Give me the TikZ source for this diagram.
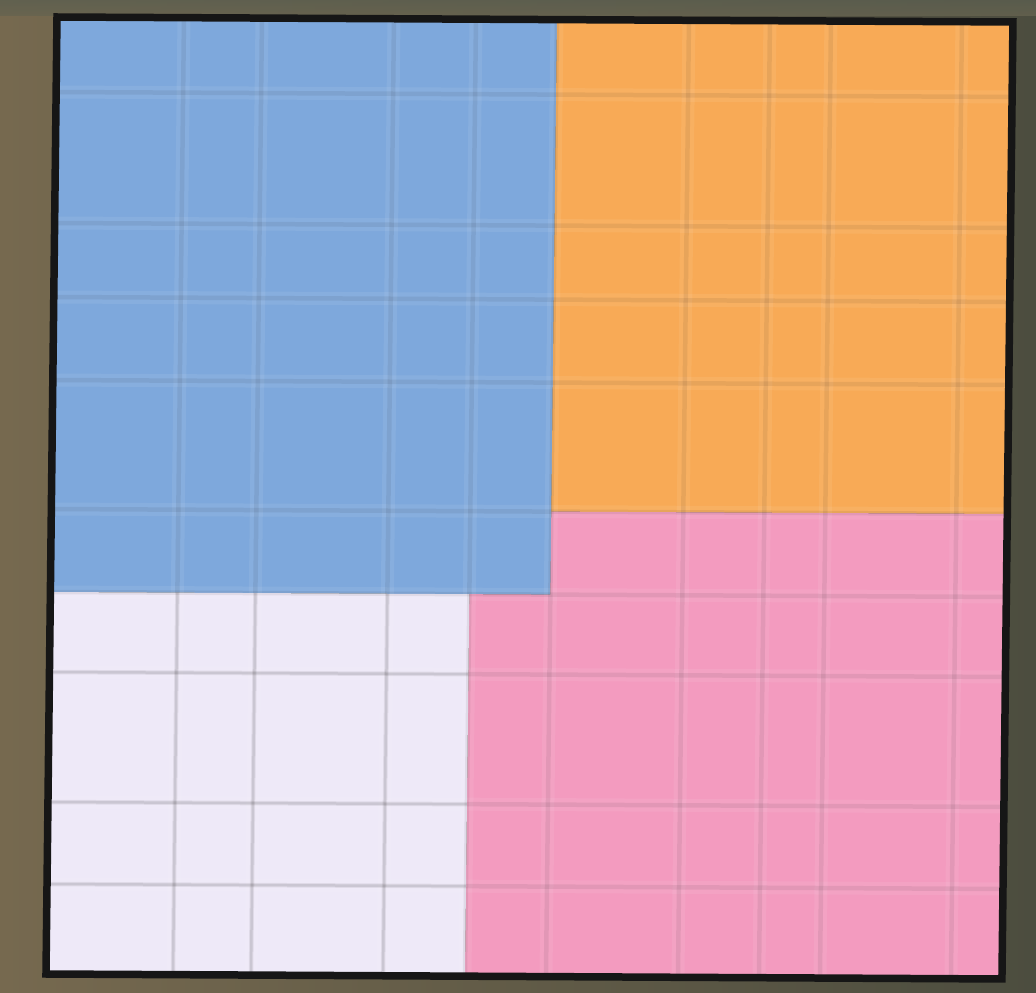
\documentclass[tikz,border=0pt]{standalone}
\begin{document}
\begin{tikzpicture}[x=0.02cm,y=-0.02cm]
\definecolor{bgL}{HTML}{76694F}
\definecolor{bgR}{HTML}{4C4D3F}
\definecolor{bgT}{HTML}{5C5F50}
\definecolor{blueC}{HTML}{7EA8DC}
\definecolor{orangeC}{HTML}{F8AA56}
\definecolor{pinkC}{HTML}{F39BBF}
\definecolor{whiteC}{HTML}{EEE9F8}
\definecolor{borderC}{HTML}{161616}
\tikzset{
  halo/.style={line width=0.26cm, white, opacity=0.07},
  gridline/.style={line width=0.09cm, black, opacity=0.065},
  gridlinew/.style={line width=0.05cm, black, opacity=0.09},
  frame/.style={line width=0.15cm, borderC}
}
\useasboundingbox (0,0) rectangle (1036,993);
\shade[left color=bgL, right color=bgR] (0,0) rectangle (1036,993);
\shade[top color=bgT, bottom color=bgT!60!bgL, opacity=0.8] (0,0) rectangle (1036,16);
\begin{scope}[shift={(57,17)}, xslant=0.0115, yslant=-0.0052]
  \fill[blueC] (0,0) rectangle (500,575);
  \fill[orangeC] (500,0) rectangle (956,492);
  \fill[pinkC] (500,492) -- (956,492) -- (956,957) -- (419,957) -- (419,575) -- (500,575) -- cycle;
  \fill[whiteC] (0,575) rectangle (419,957);
  % soft halos
  \foreach \u in {127,205,337,419,500,632,713,774,905}
    \draw[halo] (\u,0) -- (\u,957);
  \foreach \v in {75,206,280,363,492,575,655,785,867}
    \draw[halo] (0,\v) -- (956,\v);
  % grid lines
  \foreach \u in {127,205,337,419,500,632,713,774,905}
    \draw[gridline] (\u,0) -- (\u,957);
  \foreach \v in {75,206,280,363,492,575,655,785,867}
    \draw[gridline] (0,\v) -- (956,\v);
  \begin{scope}
    \clip (0,575) rectangle (419,957);
    \foreach \u in {127,205,337}
      \draw[gridlinew] (\u,575) -- (\u,957);
    \foreach \v in {655,785,867}
      \draw[gridlinew] (0,\v) -- (419,\v);
  \end{scope}
  \draw[frame] (0,0) rectangle (956,957);
\end{scope}
\end{tikzpicture}
\end{document}
